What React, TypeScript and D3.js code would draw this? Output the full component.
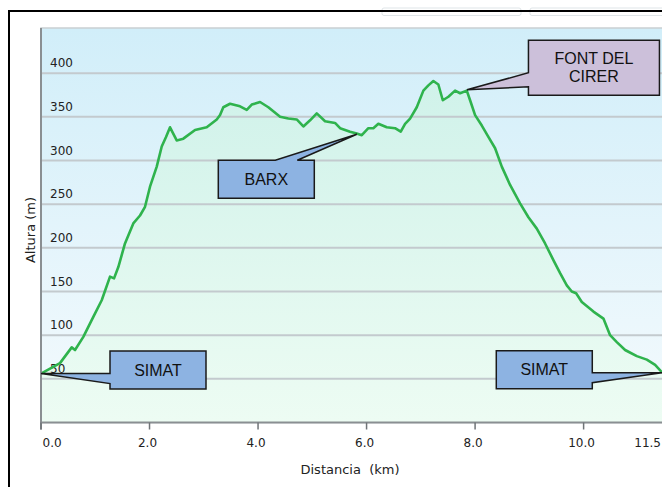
import React from 'react';
import * as d3 from 'd3';

// perfil de la ruta (km, m)
const distKm = [
  0, 0.35, 0.566, 0.627, 0.78, 0.964, 1.119, 1.272, 1.346, 1.425, 1.548, 1.701, 1.825, 1.917,
  2.009, 2.133, 2.225, 2.304, 2.378, 2.501, 2.623, 2.839, 3.054, 3.239, 3.3, 3.36, 3.484, 3.668,
  3.792, 3.884, 4.037, 4.19, 4.406, 4.559, 4.713, 4.835, 4.959, 5.082, 5.235, 5.419, 5.512,
  5.696, 5.819, 5.912, 6.033, 6.125, 6.217, 6.372, 6.525, 6.63, 6.71, 6.802, 6.925, 7.047,
  7.139, 7.231, 7.323, 7.405, 7.508, 7.631, 7.724, 7.847, 7.908, 8.0, 8.124, 8.245, 8.369,
  8.492, 8.645, 8.829, 8.983, 9.137, 9.29, 9.443, 9.567, 9.69, 9.782, 9.862, 9.967, 10.181,
  10.365, 10.488, 10.612, 10.765, 10.826, 10.981, 11.165, 11.318, 11.45
];
const elevM = [
  56, 68, 86, 83, 98, 121, 140, 167, 165, 178, 205, 228, 237, 247,
  270, 293, 316, 327, 338, 323, 325, 335, 338, 347, 352, 361, 365, 362,
  358, 364, 367, 361, 350, 348, 347, 339, 346, 354, 345, 343, 337,
  333, 331, 329, 337, 337, 342, 338, 337, 333, 342, 348, 361, 380,
  386, 391, 387, 369, 373, 380, 377, 380, 369, 352, 340, 327, 314,
  293, 272, 251, 235, 222, 205, 186, 171, 157, 150, 148, 138, 127,
  119, 100, 92, 83, 81, 76, 72, 66, 57
];

const yTicks = [50, 100, 150, 200, 250, 300, 350, 400];
const xTicks = [0, 2, 4, 6, 8, 10, 11.5];

// puntos de paso
const wayLabels = [['SIMAT'], ['BARX'], ['FONT DEL', 'CIRER'], ['SIMAT']];
const wayKm = [0, 5.82, 7.85, 11.45];
const wayElev = [56, 330, 381, 57];
const wayColors = ['#8db3e2', '#8db3e2', '#ccc0da', '#8db3e2'];

// caja del bocadillo relativa a la punta; a..b = tramo del lado donde nace la flecha
const boxes = [
  { dx: 69, dy: -22.5, w: 96, h: 38, side: 'left', a: 22.5, b: 32.5 },
  { dx: -138.5, dy: 26, w: 96, h: 38, side: 'top', a: 57, b: 79 },
  { dx: 61.5, dy: -49.5, w: 131, h: 55, side: 'left', a: 32.5, b: 46.5 },
  { dx: -166, dy: -22, w: 96, h: 38, side: 'right', a: 22, b: 32 }
];

const W = 662;
const H = 487;
const plot = { left: 41, right: 665, top: 28, bottom: 422.5 };

function calloutPath(tx: number, ty: number, bx: number, by: number, b: any) {
  const r = bx + b.w;
  const btm = by + b.h;
  const pts: [number, number][] = [];
  pts.push([bx, by]);
  if (b.side === 'top') {
    pts.push([bx + b.a, by], [tx, ty], [bx + b.b, by]);
  }
  pts.push([r, by]);
  if (b.side === 'right') {
    pts.push([r, by + b.a], [tx, ty], [r, by + b.b]);
  }
  pts.push([r, btm], [bx, btm]);
  if (b.side === 'left') {
    pts.push([bx, by + b.b], [tx, ty], [bx, by + b.a]);
  }
  return 'M' + pts.map((p) => p.join(',')).join('L') + 'Z';
}

export default function App() {
  const x = d3.scaleLinear().domain([0, 11.5]).range([plot.left, plot.right]);
  const y = d3.scaleLinear().domain([0, 450]).range([plot.bottom, 29.5]);

  const pts = distKm.map((d, i) => [d, elevM[i]] as [number, number]);

  const line = d3.line<[number, number]>()
    .x((d) => x(d[0]))
    .y((d) => y(d[1]));
  const area = d3.area<[number, number]>()
    .x((d) => x(d[0]))
    .y0(plot.bottom)
    .y1((d) => y(d[1]));

  const font = '"DejaVu Sans", Verdana, sans-serif';

  return (
    <svg width={W} height={H} style={{ position: 'absolute', left: 0, top: 0, background: '#fff' }}>
      <defs>
        <linearGradient id="bg" x1="0" y1="0" x2="0" y2="1">
          <stop offset="0" stopColor="#d1eef9" />
          <stop offset="1" stopColor="#f4fafd" />
        </linearGradient>
        <linearGradient id="ar" x1="0" y1="0" x2="0" y2="1">
          <stop offset="0" stopColor="#d0f2ea" />
          <stop offset="1" stopColor="#edfcf3" />
        </linearGradient>
      </defs>

      {/* botones de arriba */}
      <rect x={382} y={8} width={139} height={7.5} rx={2} fill="#fff" stroke="#dfe5e8" />
      <rect x={530} y={8} width={140} height={7.5} rx={2} fill="#fff" stroke="#dfe5e8" />

      {/* marco */}
      <line x1={9} y1={11} x2={W} y2={11} stroke="#000" strokeWidth={2} />
      <line x1={9} y1={10} x2={9} y2={H} stroke="#000" strokeWidth={2} />

      <rect x={plot.left} y={plot.top} width={plot.right - plot.left} height={plot.bottom - plot.top}
        fill="url(#bg)" stroke="#c9cfd2" strokeWidth={1.5} />
      <path d={area(pts) || ''} fill="url(#ar)" />

      {yTicks.map((t) => (
        <g key={t}>
          <line x1={plot.left} x2={plot.right} y1={y(t)} y2={y(t)} stroke="#c3cace" strokeWidth={2} />
          <text x={50} y={y(t) - 6} fontSize={12} fontFamily={font} fill="#222">{t}</text>
        </g>
      ))}

      <path d={line(pts) || ''} fill="none" stroke="#2fb34d" strokeWidth={2.6} strokeLinejoin="round" />

      {/* ejes */}
      <line x1={plot.left} x2={plot.left} y1={plot.top} y2={plot.bottom + 7} stroke="#8a8f92" strokeWidth={2} />
      <line x1={plot.left} x2={plot.right} y1={plot.bottom} y2={plot.bottom} stroke="#8a8f92" strokeWidth={2} />
      {xTicks.map((t, i) => {
        const last = i === xTicks.length - 1;
        const first = i === 0;
        return (
          <g key={t}>
            <line x1={x(t)} x2={x(t)} y1={plot.bottom} y2={plot.bottom + 7} stroke="#6f7477" strokeWidth={1.5} />
            <text x={first ? x(t) + 1.5 : last ? W - 1 : x(t) - 2} y={446.5} fontSize={12} fontFamily={font}
              fill="#222" textAnchor={first ? 'start' : last ? 'end' : 'middle'}>{t.toFixed(1)}</text>
          </g>
        );
      })}

      <text x={350} y={474} fontSize={13} fontFamily={font} fill="#222" textAnchor="middle"
        style={{ whiteSpace: 'pre' }}>{'Distancia  (km)'}</text>
      <text transform={`translate(35,230) rotate(-90)`} fontSize={13} fontFamily={font} fill="#222"
        textAnchor="middle">Altura (m)</text>

      {/* bocadillos */}
      {wayLabels.map((lab, i) => {
        const tx = x(wayKm[i]);
        const ty = y(wayElev[i]);
        const b = boxes[i];
        const bx = tx + b.dx;
        const by = ty + b.dy;
        const cx = bx + b.w / 2;
        const cy = by + b.h / 2;
        return (
          <g key={i}>
            <path d={calloutPath(tx, ty, bx, by, b)} fill={wayColors[i]} stroke="#1a1a1a" strokeWidth={1.5}
              strokeLinejoin="miter" />
            {lab.map((s, j) => (
              <text key={j} x={cx} y={cy + 5.5 + (j - (lab.length - 1) / 2) * 18} fontSize={16}
                fontFamily='"Liberation Sans", Arial, sans-serif' fill="#111" textAnchor="middle">{s}</text>
            ))}
          </g>
        );
      })}
    </svg>
  );
}
